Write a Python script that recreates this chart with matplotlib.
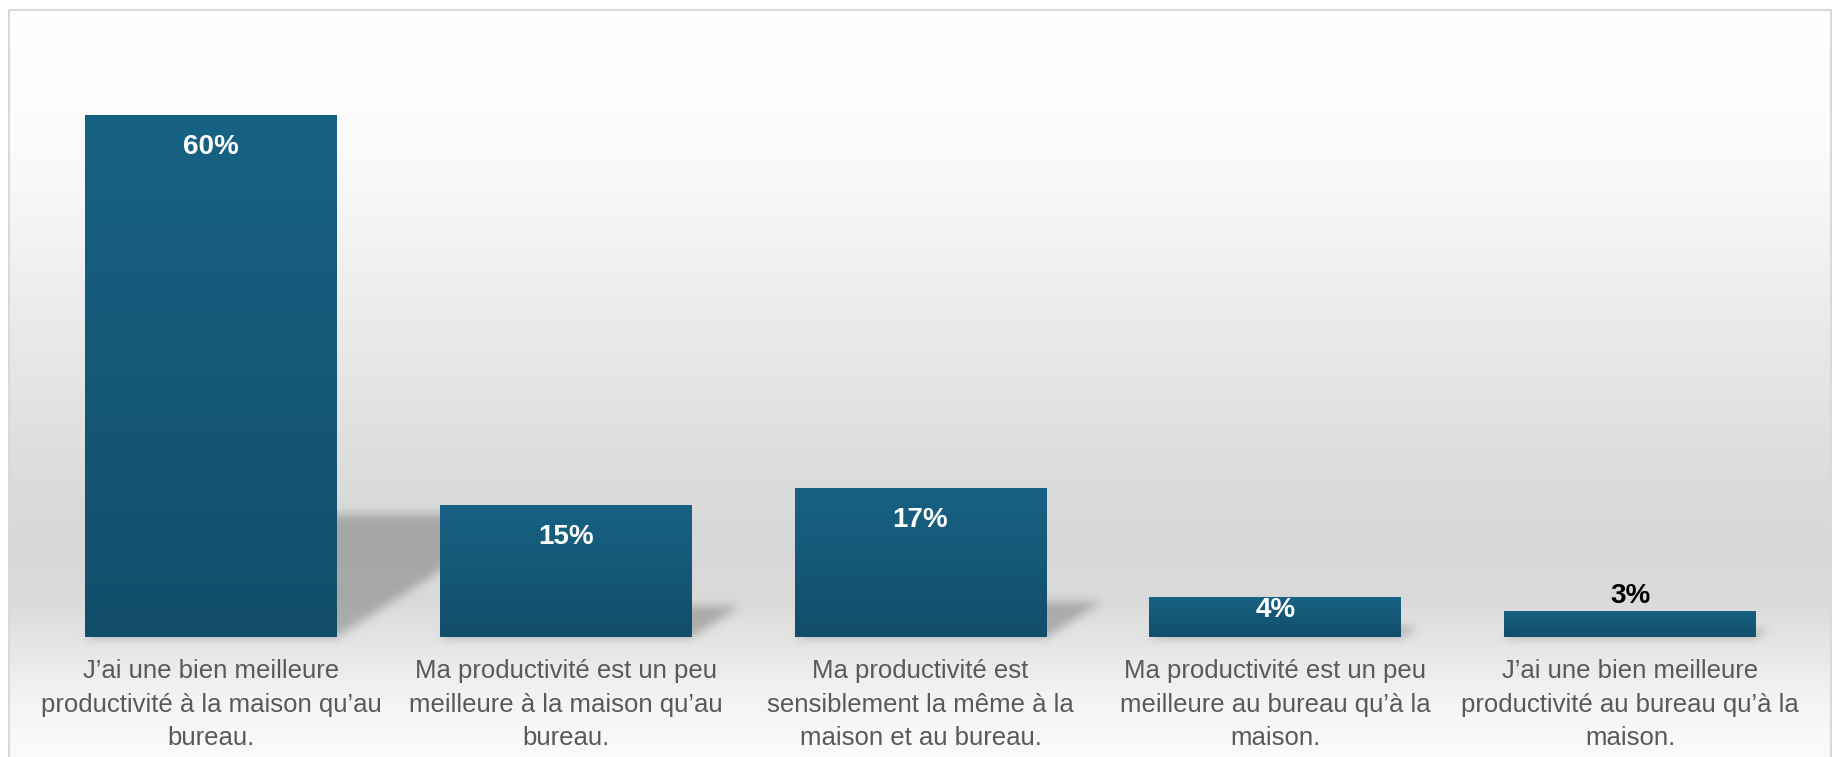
import matplotlib
matplotlib.use("Agg")
import matplotlib.pyplot as plt
from matplotlib.patches import Rectangle
from matplotlib.colors import LinearSegmentedColormap
import numpy as np

categories = [
    "J’ai une bien meilleure\nproductivité à la maison qu’au\nbureau.",
    "Ma productivité est un peu\nmeilleure à la maison qu’au\nbureau.",
    "Ma productivité est\nsensiblement la même à la\nmaison et au bureau.",
    "Ma productivité est un peu\nmeilleure au bureau qu’à la\nmaison.",
    "J’ai une bien meilleure\nproductivité au bureau qu’à la\nmaison.",
]
values = [60, 15.2, 17.1, 4.6, 3.0]
value_labels = ["60%", "15%", "17%", "4%", "3%"]

W, H = 1835, 757
BAR_TOP = "#186284"
BAR_BOT = "#124e6a"
TEXT_GREY = "#595959"

fig = plt.figure(figsize=(W / 100, H / 100), dpi=100)
fig.patch.set_facecolor("white")

# background axes in pixel coordinates (gradient + shadows + frame)
bg = fig.add_axes([0, 0, 1, 1])
bg.axis("off")

ax = fig.add_axes([33.5 / W, (H - 637) / H, 1774 / W, 565.5 / H])
ax.set_facecolor("none")
ax.set_xlim(-0.5, len(values) - 0.5)
ax.set_ylim(0, 65)

# vertical background gradient inside the chart frame
ys = np.arange(H)
stops_y = [10, 150, 300, 450, 540, 600, 650, 700, 757]
stops_v = [255, 251, 237, 222, 216, 218, 231, 244, 251]
col = np.interp(ys, stops_y, stops_v) / 255.0
img = np.ones((H, W, 3)) * col[:, None, None]

# perspective shadows behind the bars
shadow = np.zeros((H, W))
k, skew = 0.234, 1.55
bar_w = 0.71
for i, v in enumerate(values):
    (x0, yb), (x1, yt) = ax.transData.transform([(i - bar_w / 2, 0), (i + bar_w / 2, v)])
    yb, yt = H - yb, H - yt
    hs = k * (yb - yt)
    for row in range(int(yb - hs), int(yb) + 1):
        d = yb - row
        xl = int(x0 + skew * d)
        xr = int(x1 + skew * d)
        shadow[row, max(xl, 0):min(xr, W)] = 1.0


def box_blur(a, r):
    out = a.copy()
    for axis in (0, 1):
        pad = [(r + 1, r) if j == axis else (0, 0) for j in range(2)]
        c = np.cumsum(np.pad(out, pad, mode="edge"), axis=axis)
        if axis == 0:
            out = (c[2 * r + 1:, :] - c[:-2 * r - 1, :]) / (2 * r + 1)
        else:
            out = (c[:, 2 * r + 1:] - c[:, :-2 * r - 1]) / (2 * r + 1)
    return out


for _ in range(3):
    shadow = box_blur(shadow, 4)
img = img * (1 - 0.23 * shadow[:, :, None])
img[:, :9] = 1.0
img[:, 1831:] = 1.0
img[:9, :] = 1.0

bg.imshow(img, extent=(0, W, H, 0), aspect="auto", interpolation="bilinear")
bg.add_patch(Rectangle((8.5, 9.5), 1822.5, 760, fill=False, edgecolor="#d9d9d9", linewidth=1.5))
bg.set_xlim(0, W)
bg.set_ylim(H, 0)

# bars with vertical gradient
bars = ax.bar(range(len(values)), values, width=bar_w, color=BAR_BOT, zorder=2)
grad = np.linspace(0, 1, 256)[:, None]
cmap = LinearSegmentedColormap.from_list("bar", [BAR_TOP, BAR_BOT])
for b in bars:
    x, w, h = b.get_x(), b.get_width(), b.get_height()
    im = ax.imshow(grad, cmap=cmap, extent=(x, x + w, 0, h), origin="upper",
                   aspect="auto", zorder=3)
    im.set_clip_path(b)
ax.set_xlim(-0.5, len(values) - 0.5)
ax.set_ylim(0, 65)

px_per_unit = 565.5 / 65
for i, (v, lab) in enumerate(zip(values, value_labels)):
    hpx = v * px_per_unit
    if hpx > 60:
        off, c = -32, "white"
    elif hpx > 30:
        off, c = -13, "white"
    else:
        off, c = 15, "black"
    ax.annotate(lab, (i, v), xytext=(0, off * 0.72), textcoords="offset points",
                ha="center", va="center", fontsize=20, fontweight="bold",
                color=c, family="Liberation Sans", zorder=5)

ax.set_xticks(range(len(values)))
ax.set_xticklabels(categories, fontsize=18.5, color=TEXT_GREY,
                   family="Liberation Sans", linespacing=1.5)
ax.tick_params(axis="x", length=0, pad=16)
ax.set_yticks([])
for s in ax.spines.values():
    s.set_visible(False)

fig.savefig("out.png", dpi=100)
